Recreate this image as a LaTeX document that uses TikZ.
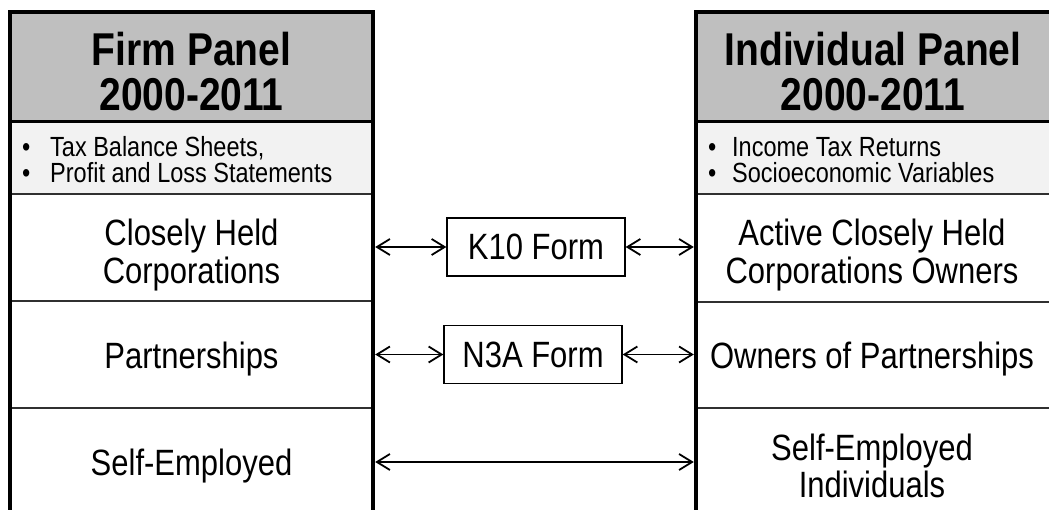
\documentclass[tikz,border=0pt]{standalone}
\usepackage{fontspec}
\usepackage{graphicx}
\setmainfont{Liberation Sans}
\usetikzlibrary{arrows.meta}
\definecolor{hdrgray}{HTML}{BFBFBF}
\definecolor{subgray}{HTML}{F2F2F2}
\definecolor{rowgray}{HTML}{303030}
\newcommand{\vt}[1]{\scalebox{1}[1.18]{\begin{tabular}[t]{@{}c@{}}#1\end{tabular}}}
\newcommand{\vl}[1]{\scalebox{1}[1.18]{#1}}
\begin{document}
\begin{tikzpicture}[x=1pt,y=-1pt,
  panelline/.style={line width=4pt, line join=miter, line cap=rect},
  headline/.style={line width=3pt},
  rowline/.style={line width=2pt, draw=rowgray},
  headtxt/.style={anchor=base, inner sep=0pt, font=\fontsize{39}{34.5}\selectfont\bfseries},
  cell/.style={anchor=base, minimum width=#1, inner sep=0pt, font=\fontsize{31}{32.2}\selectfont},
  bullettxt/.style={anchor=base west, inner sep=0pt, font=\fontsize{23.5}{27}\selectfont},
  formbox/.style={draw, line width=1.3pt, minimum width=178pt, minimum height=58pt, inner sep=0pt, font=\fontsize{31}{37}\selectfont},
  link/.style={line width=1.8pt, {Straight Barb[length=13pt,width=16pt]}-{Straight Barb[length=13pt,width=16pt]}}
]
\useasboundingbox (0,0) rectangle (1049,510);
\clip (0,0) rectangle (1049,510);
% fills
\fill[hdrgray] (10,12) rectangle (373,122);
\fill[subgray] (10,122) rectangle (373,194);
\fill[hdrgray] (696,12) rectangle (1060,122);
\fill[subgray] (696,122) rectangle (1060,194);
% horizontal lines
\draw[headline] (10,122) -- (373,122);
\draw[headline] (696,122) -- (1060,122);
\draw[rowline] (10,194) -- (373,194);
\draw[rowline] (10,301) -- (373,301);
\draw[rowline] (10,408) -- (373,408);
\draw[rowline] (696,194) -- (1060,194);
\draw[rowline] (696,302) -- (1060,302);
\draw[rowline] (696,408) -- (1060,408);
% panel frames
\draw[panelline] (10,515) -- (10,12) -- (373,12) -- (373,515);
\draw[panelline] (696,515) -- (696,12) -- (1060,12);
% headers
\node[headtxt] (lhead) at (191.5,66) {\vt{Firm Panel\\2000-2011}};
\node[headtxt] (rhead) at (873,66) {\vt{Individual Panel\\2000-2011}};
% bullets
\node[bullettxt] (lb1) at (22,156.5) {\vl{\makebox[28pt][l]{•}Tax Balance Sheets,}};
\node[bullettxt] (lb2) at (22,183) {\vl{\makebox[28pt][l]{•}Profit and Loss Statements}};
\node[bullettxt] (rb1) at (708,156.5) {\vl{\makebox[24pt][l]{•}Income Tax Returns}};
\node[bullettxt] (rb2) at (708,183) {\vl{\makebox[24pt][l]{•}Socioeconomic Variables}};
% rows
\node[cell=363pt] (lrow1) at (191.5,246) {\vt{Closely Held\\Corporations}};
\node[cell=363pt] (lrow2) at (191.5,368) {\vl{Partnerships}};
\node[cell=363pt] (lrow3) at (191.5,475) {\vl{Self-Employed}};
\node[cell=352pt] (rrow1) at (872,246) {\vt{Active Closely Held\\Corporations Owners}};
\node[cell=352pt] (rrow2) at (872,368) {\vl{Owners of Partnerships}};
\node[cell=352pt] (rrow3) at (872,460) {\vt{Self-Employed\\Individuals}};
% forms
\node[formbox] (k10) at (536,247) {\vl{K10 Form}};
\node[formbox] (n3a) at (533,354.5) {\vl{N3A Form}};
% links
\draw[link, shorten <=2pt] (lrow1.east |- k10.west) -- (k10.west);
\draw[link, shorten >=2pt] (k10.east) -- (rrow1.west |- k10.east);
\draw[link, shorten <=2pt] (lrow2.east |- n3a.west) -- (n3a.west);
\draw[link, shorten >=2pt] (n3a.east) -- (rrow2.west |- n3a.east);
\draw[link, shorten <=2pt, shorten >=2pt] (lrow3.east |- 0,462) -- (rrow3.west |- 0,462);
\end{tikzpicture}
\end{document}
